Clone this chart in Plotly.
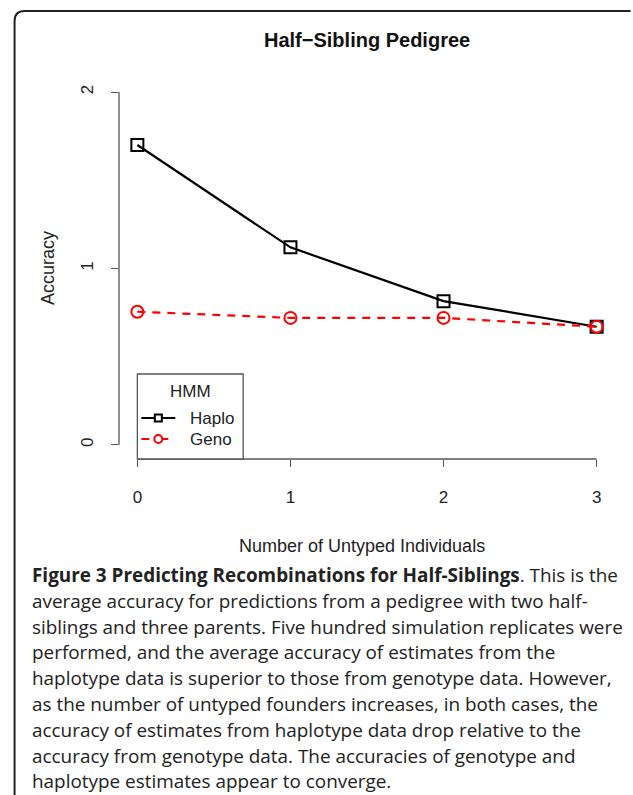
import plotly.graph_objects as go

# ---- data ----
untyped = [0, 1, 2, 3]
haplo = [1.70, 1.12, 0.815, 0.67]
geno = [0.755, 0.72, 0.72, 0.67]
x_ticks = [0, 1, 2, 3]
y_ticks = [0, 1, 2]

title_text = "Half\u2212Sibling Pedigree"
x_title = "Number of Untyped Individuals"
y_title = "Accuracy"
legend_title = "HMM"
series_names = ["Haplo", "Geno"]
caption_lines = [
    "<b>Figure 3 Predicting Recombinations for Half-Siblings</b>. This is the",
    "average accuracy for predictions from a pedigree with two half-",
    "siblings and three parents. Five hundred simulation replicates were",
    "performed, and the average accuracy of estimates from the",
    "haplotype data is superior to those from genotype data. However,",
    "as the number of untyped founders increases, in both cases, the",
    "accuracy of estimates from haplotype data drop relative to the",
    "accuracy from genotype data. The accuracies of genotype and",
    "haplotype estimates appear to converge.",
]

# ---- geometry (pixels) ----
W, H = 633, 795
PL, PR, PT, PB = 118.6, 615.4, 78.0, 459.0


def px(x):
    return (x - PL) / (PR - PL)


def py(y):
    return (PB - y) / (PB - PT)


AX = "#555555"
TXT = "#222222"
RED = "#ff0000"
FONT = "Liberation Sans, Arial, Helvetica, sans-serif"

fig = go.Figure()
fig.add_trace(go.Scatter(
    x=untyped, y=haplo, mode="lines+markers", name=series_names[0],
    line=dict(color="black", width=2.2),
    marker=dict(symbol="square-open", size=12, color="black", line=dict(width=2)),
    showlegend=False, cliponaxis=False,
))
fig.add_trace(go.Scatter(
    x=untyped, y=geno, mode="lines+markers", name=series_names[1],
    line=dict(color=RED, width=2.2, dash="8px,7px"),
    marker=dict(symbol="circle-open", size=12, color=RED, line=dict(width=2)),
    showlegend=False, cliponaxis=False,
))

shapes = []
# R-style axis lines spanning tick range
shapes.append(dict(type="line", xref="x", yref="paper", x0=x_ticks[0], x1=x_ticks[-1],
                   y0=0, y1=0, line=dict(color=AX, width=1.3)))
shapes.append(dict(type="line", xref="paper", yref="y", x0=0, x1=0,
                   y0=y_ticks[0], y1=y_ticks[-1], line=dict(color=AX, width=1.3)))

# frame (rounded top-left)
r = 10
fx0, fy0, fx1 = 14, 11, 631
path = (f"M {px(fx0)} {py(H + 5)} L {px(fx0)} {py(fy0 + r)} "
        f"Q {px(fx0)} {py(fy0)} {px(fx0 + r)} {py(fy0)} L {px(fx1)} {py(fy0)}")
shapes.append(dict(type="path", xref="paper", yref="paper", path=path,
                   line=dict(color="#222222", width=2)))

# legend box (manual, R style)
lx0, lx1, ly0, ly1 = 137, 243, 374, 459
shapes.append(dict(type="rect", xref="paper", yref="paper",
                   x0=px(lx0), x1=px(lx1), y0=py(ly1), y1=py(ly0),
                   line=dict(color=AX, width=1.3), fillcolor="white", layer="above"))
# Haplo sample
shapes.append(dict(type="line", xref="paper", yref="paper", x0=px(141), x1=px(175),
                   y0=py(418), y1=py(418), line=dict(color="black", width=2), layer="above"))
shapes.append(dict(type="rect", xref="paper", yref="paper", x0=px(154.5), x1=px(161.5),
                   y0=py(421.5), y1=py(414.5), line=dict(color="black", width=2),
                   fillcolor="white", layer="above"))
# Geno sample
shapes.append(dict(type="line", xref="paper", yref="paper", x0=px(141), x1=px(149),
                   y0=py(439), y1=py(439), line=dict(color=RED, width=2), layer="above"))
shapes.append(dict(type="line", xref="paper", yref="paper", x0=px(161), x1=px(168),
                   y0=py(439), y1=py(439), line=dict(color=RED, width=2), layer="above"))
shapes.append(dict(type="circle", xref="paper", yref="paper", x0=px(154), x1=px(162),
                   y0=py(443), y1=py(435), line=dict(color=RED, width=2),
                   fillcolor="white", layer="above"))


def ann(text, x, y, size, xanchor="center", family=FONT, color=TXT, angle=0):
    return dict(text=text, xref="paper", yref="paper", x=px(x), y=py(y),
                xanchor=xanchor, yanchor="middle", showarrow=False, textangle=angle,
                font=dict(family=family, size=size, color=color))


annotations = [
    ann(legend_title, 190, 391, 17),
    ann(series_names[0], 188, 418, 17, xanchor="left"),
    ann(series_names[1], 188, 439, 17, xanchor="left"),
    ann("<b>" + title_text + "</b>", 367, 40, 20, color="#111"),
    ann(x_title, 362, 546, 18),
    ann(y_title, 47, 268.5, 18, angle=-90),
]

# caption
cap_y0, cap_dy = 575, 25.8
for i, line in enumerate(caption_lines):
    annotations.append(ann(line, 29, cap_y0 + i * cap_dy, 18.9, xanchor="left",
                           family="Open Sans, sans-serif"))

fig.update_layout(
    width=W, height=H,
    margin=dict(l=PL, r=W - PR, t=PT, b=H - PB, pad=0),
    plot_bgcolor="white", paper_bgcolor="white",
    shapes=shapes, annotations=annotations,
    showlegend=False,
)
fig.update_xaxes(range=[-0.12, 3.12], tickvals=x_ticks, ticks="outside", ticklen=7,
                 tickcolor=AX, tickwidth=1.3, showline=False, showgrid=False, zeroline=False,
                 ticklabelstandoff=16, tickfont=dict(family=FONT, size=17, color=TXT))
fig.update_yaxes(range=[-0.08, 2.08], tickvals=y_ticks, ticks="outside", ticklen=7,
                 tickcolor=AX, tickwidth=1.3, showline=False, showgrid=False, zeroline=False,
                 tickangle=-90, ticklabelstandoff=11,
                 tickfont=dict(family=FONT, size=17, color=TXT))

fig.write_html("out.html", config={"displayModeBar": False},
               post_script="document.body.style.margin='0';")
